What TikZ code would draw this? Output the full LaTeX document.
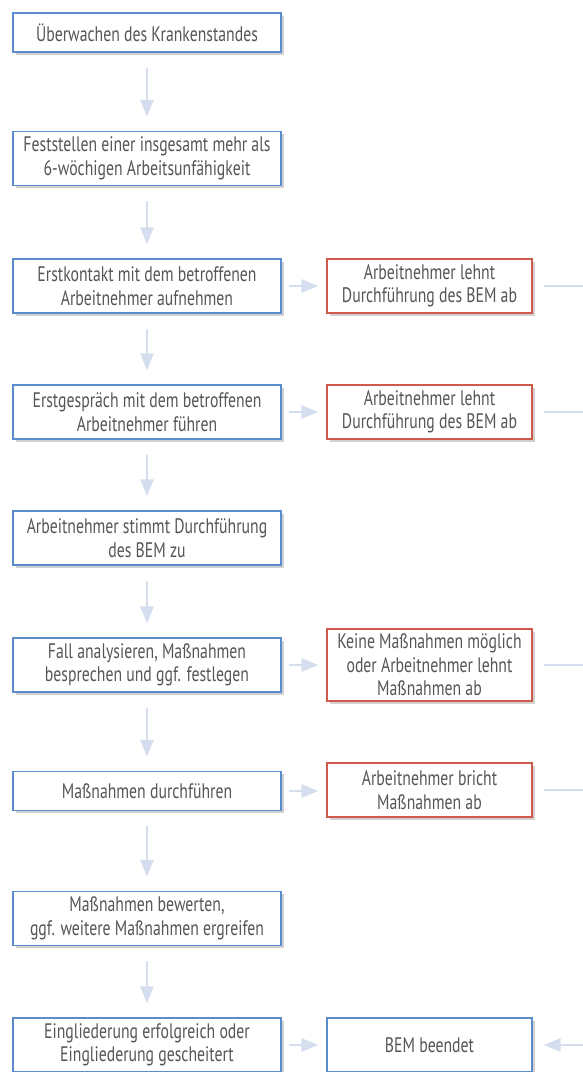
\documentclass[tikz,border=0pt]{standalone}
\usepackage{fontspec}
\setmainfont{PT Sans}[FakeStretch=0.75]
\usetikzlibrary{arrows.meta,shadows}
\definecolor{boxblue}{HTML}{5B8DCC}
\definecolor{boxred}{HTML}{CF5A4C}
\definecolor{arr}{HTML}{D4DEEF}
\definecolor{txt}{HTML}{555659}
\begin{document}
\begin{tikzpicture}[x=1pt,y=1pt,
 base/.style={draw, line width=1.2pt, fill=white, align=center, text=txt,
   font=\fontsize{21}{23.5}\selectfont, inner sep=0pt,
   drop shadow={shadow xshift=2.5pt, shadow yshift=-2.5pt, opacity=0.18, fill=black}},
 lbox/.style={base, draw=boxblue, minimum width=268pt},
 rbox/.style={base, draw=boxred, minimum width=205pt},
 h39/.style={minimum height=39pt},
 h54/.style={minimum height=54pt},
 h72/.style={minimum height=72pt},
 flow/.style={draw=arr, line width=2.5pt, -{Triangle[length=17pt,width=13pt]}},
 vflow/.style={flow, shorten <=15pt, shorten >=14pt},
 hflow/.style={flow, shorten <=7pt, shorten >=8pt},
 plain/.style={draw=arr, line width=2.5pt}]
\useasboundingbox (0,0) rectangle (583,-1072);

\node[lbox,h39] (n1) at (147,-32.5) {Überwachen des Krankenstandes};
\node[lbox,h54] (n2) at (147,-158.5) {Feststellen einer insgesamt mehr als\\6-wöchigen Arbeitsunfähigkeit};
\node[lbox,h54] (n3) at (147,-286) {Erstkontakt mit dem betroffenen\\Arbeitnehmer aufnehmen};
\node[rbox,h54] (r3) at (429.5,-286) {Arbeitnehmer lehnt\\Durchführung des BEM ab};
\node[lbox,h54] (n4) at (147,-412) {Erstgespräch mit dem betroffenen\\Arbeitnehmer führen};
\node[rbox,h54] (r4) at (429.5,-412) {Arbeitnehmer lehnt\\Durchführung des BEM ab};
\node[lbox,h54] (n5) at (147,-538) {Arbeitnehmer stimmt Durchführung\\des BEM zu};
\node[lbox,h54] (n6) at (147,-665) {Fall analysieren, Maßnahmen\\besprechen und ggf. festlegen};
\node[rbox,h72] (r6) at (429.5,-665) {Keine Maßnahmen möglich\\oder Arbeitnehmer lehnt\\Maßnahmen ab};
\node[lbox,h39] (n7) at (147,-791) {Maßnahmen durchführen};
\node[rbox,h54] (r7) at (429.5,-790) {Arbeitnehmer bricht\\Maßnahmen ab};
\node[lbox,h54] (n8) at (147,-918.5) {Maßnahmen bewerten,\\ggf. weitere Maßnahmen ergreifen};
\node[lbox,h54] (n9) at (147,-1045) {Eingliederung erfolgreich oder\\Eingliederung gescheitert};
\node[rbox,draw=boxblue,h54] (end) at (429.5,-1045) {BEM beendet};

\coordinate (e3) at (583,-286);
\coordinate (e4) at (583,-412);
\coordinate (e6) at (583,-665);
\coordinate (e7) at (583,-790);
\coordinate (e9) at (583,-1045);

\draw[vflow] (n1) -- (n2);
\draw[vflow] (n2) -- (n3);
\draw[vflow] (n3) -- (n4);
\draw[vflow] (n4) -- (n5);
\draw[vflow] (n5) -- (n6);
\draw[vflow] (n6) -- (n7);
\draw[vflow] (n7) -- (n8);
\draw[vflow] (n8) -- (n9);

\draw[hflow] (n3) -- (r3);
\draw[hflow] (n4) -- (r4);
\draw[hflow] (n6) -- (r6);
\draw[hflow] (n7.east) -- (n7.east -| r7.west);
\draw[hflow] (n9) -- (end);

\draw[plain, shorten <=11pt] (r3) -- (e3);
\draw[plain, shorten <=11pt] (r4) -- (e4);
\draw[plain, shorten <=11pt] (r6) -- (e6);
\draw[plain, shorten <=11pt] (r7) -- (e7);
\draw[flow, shorten >=11pt] (e9) -- (end);
\end{tikzpicture}
\end{document}
